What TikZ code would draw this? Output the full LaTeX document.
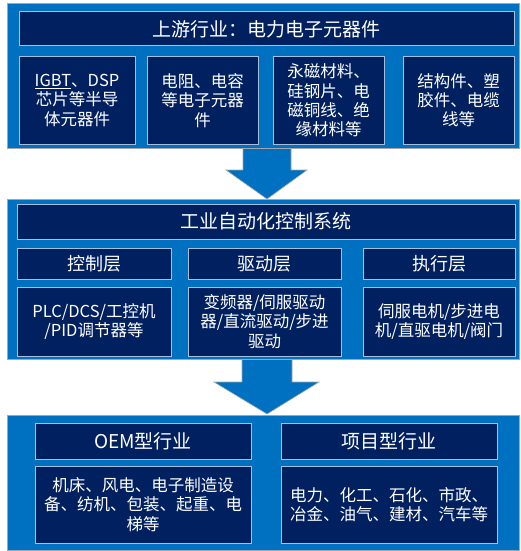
\documentclass[tikz,border=0pt]{standalone}
\usepackage{fontspec}
\setmainfont{Noto Sans CJK SC}
\definecolor{outerblue}{RGB}{0,112,192}
\definecolor{darknavy}{RGB}{0,32,96}
\definecolor{lightedge}{RGB}{170,190,220}
\definecolor{grayedge}{RGB}{165,165,165}
\tikzset{
  outerbox/.style={draw=grayedge, line width=0.8pt, fill=outerblue, inner sep=0pt},
  darkbox/.style={draw=lightedge, line width=1pt, fill=darknavy, text=white, inner sep=0pt, align=center},
  bigfont/.style={font=\fontsize{19}{22}\selectfont},
  midfont/.style={font=\fontsize{18}{21}\selectfont},
  smallfont/.style={font=\fontsize{16.5}{19.2}\selectfont},
  blockarrow/.style={fill=outerblue, draw=grayedge, line width=0.6pt, line join=miter},
}
\begin{document}
\begin{tikzpicture}[x=1pt,y=-1pt]
\useasboundingbox (0,0) rectangle (521,551);
\fill[white] (0,0) rectangle (521,551);
% arrows (drawn first, boxes cover the shaft ends)
\draw[blockarrow] (243,146) -- (243,170) -- (226,170) -- (267,199) -- (307,170) -- (291,170) -- (291,146);
\draw[blockarrow] (242,357) -- (242,382) -- (214,382) -- (267,414) -- (319,382) -- (292,382) -- (292,357);
% outer panels
\node[outerbox, minimum width=512pt, minimum height=145pt] (o1) at (263,75.5) {};
\node[outerbox, minimum width=512pt, minimum height=160pt] (o2) at (263,279) {};
\node[outerbox, minimum width=512pt, minimum height=135pt] (o3) at (263,482.5) {};
% panel 1
\node[darkbox, bigfont, minimum width=495pt, minimum height=34pt] (h1) at (266.5,29) {上游行业：电力电子元器件};
\node[darkbox, smallfont, minimum width=116pt, minimum height=87pt] (a1) at (77,100.5) {\underline{IGBT}、DSP\\芯片等半导\\体元器件};
\node[darkbox, smallfont, minimum width=111pt, minimum height=87pt] (a2) at (202.5,100.5) {电阻、电容\\等电子元器\\件};
\node[darkbox, smallfont, minimum width=111pt, minimum height=87pt] (a3) at (328.5,100.5) {永磁材料、\\硅钢片、电\\磁铜线、绝\\缘材料等};
\node[darkbox, smallfont, minimum width=111pt, minimum height=87pt] (a4) at (458.5,100.5) {结构件、塑\\胶件、电缆\\线等};
% panel 2
\node[darkbox, bigfont, minimum width=498pt, minimum height=35pt] (h2) at (266,221.5) {工业自动化控制系统};
\node[darkbox, midfont, minimum width=154pt, minimum height=31pt] (l1) at (94,263.5) {控制层};
\node[darkbox, midfont, minimum width=153pt, minimum height=31pt] (l2) at (264.5,263.5) {驱动层};
\node[darkbox, midfont, minimum width=152pt, minimum height=31pt] (l3) at (439,263.5) {执行层};
\node[darkbox, smallfont, minimum width=154pt, minimum height=69pt] (c1) at (94,321.5) {PLC/DCS/工控机\\/PID调节器等};
\node[darkbox, smallfont, minimum width=153pt, minimum height=69pt] (c2) at (264.5,321.5) {变频器/伺服驱动\\器/直流驱动/步进\\驱动};
\node[darkbox, smallfont, minimum width=152pt, minimum height=69pt] (c3) at (439,321.5) {伺服电机/步进电\\机/直驱电机/阀门};
% panel 3
\node[darkbox, bigfont, minimum width=216pt, minimum height=36pt] (t1) at (143,441) {OEM型行业};
\node[darkbox, bigfont, minimum width=216pt, minimum height=36pt] (t2) at (389,441) {项目型行业};
\node[darkbox, smallfont, minimum width=216pt, minimum height=77pt] (d1) at (143,504.5) {机床、风电、电子制造设\\备、纺机、包装、起重、电\\梯等};
\node[darkbox, smallfont, minimum width=216pt, minimum height=77pt] (d2) at (389,504.5) {电力、化工、石化、市政、\\冶金、油气、建材、汽车等};
\end{tikzpicture}
\end{document}
